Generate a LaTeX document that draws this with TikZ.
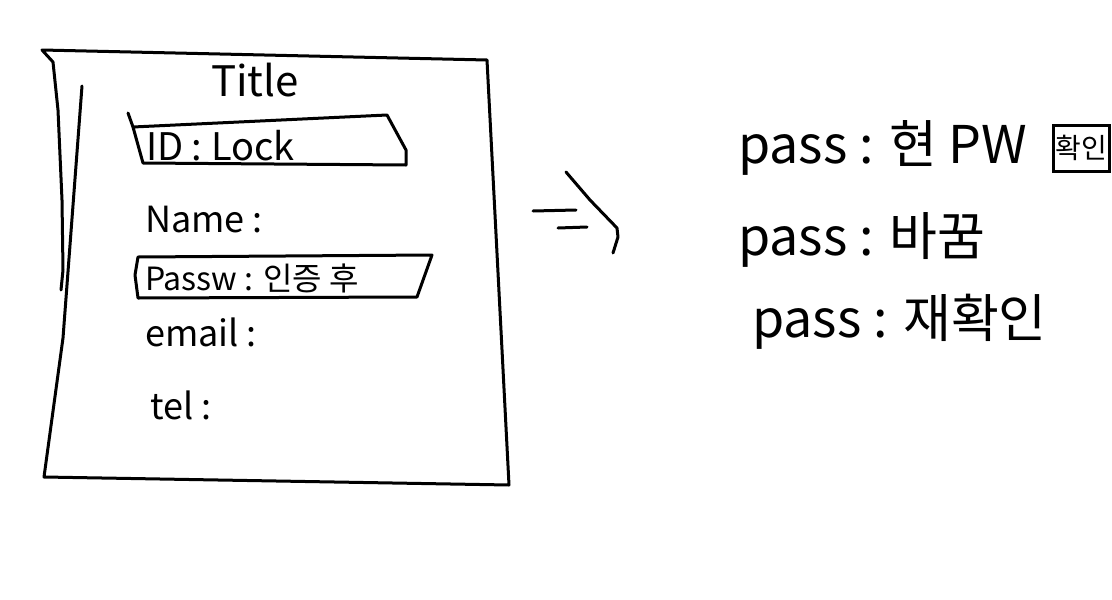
\documentclass[tikz,border=0pt]{standalone}
\usepackage{fontspec}
\newfontfamily\krfont{Noto Sans CJK KR}
\usetikzlibrary{positioning}
\tikzset{pen/.style={line width=3pt,line cap=round,line join=round},field/.style={font=\krfont\fontsize{36}{42}\selectfont,inner sep=0pt,anchor=west},note/.style={font=\krfont\fontsize{52}{60}\selectfont,inner sep=0pt,anchor=west},btn/.style={draw,line width=3pt,font=\krfont\fontsize{28}{32}\selectfont,inner sep=1pt,minimum height=46pt,minimum width=56pt}}

\begin{document}
\begin{tikzpicture}[x=1pt,y=-1pt]
\useasboundingbox (0,0) rectangle (1112,600);
% form sheet
\draw[pen] (82,86) -- (63,338) -- (44,477) -- (509,485) -- (487,60) -- (42,50) -- (53,62) -- (58,110) -- (62,200) -- (63,270) -- (61,290);
\node[field,anchor=center,font=\krfont\fontsize{42}{48}\selectfont] (title) at (255,80) {Title};
% id field
\draw[pen] (128,113) -- (133,127) -- (143,163) -- (406,165) -- (406,150) -- (387,115) -- (133,127);
\node[field,font=\krfont\fontsize{38}{44}\selectfont] (idlock) at (146,146) {ID : Lock};
\node[field] (name) at (145,220) {Name :};
% password field
\draw[pen] (138,257) -- (432,255) -- (417,297) -- (138,298) -- (135,275) -- cycle;
\node[field,font=\krfont\fontsize{32}{38}\selectfont] (passw) at (145,278) {Passw : 인증 후};
\node[field] (email) at (145,332) {email :};
\node[field] (tel) at (150,405) {tel :};
% arrow
\draw[pen] (533,211) -- (576,210);
\draw[pen] (558,228) -- (587,227);
\draw[pen] (566,172) -- (590,200) -- (617,228) -- (618,237) -- (613,253);
% password change
\node[note] (pass1) at (738,148) {pass : 현 PW};
\node[btn] (confirm) at (1081,148) {확인};
\node[note] (pass2) at (738,240) {pass : 바꿈};
\node[note] (pass3) at (752,322) {pass : 재확인};
\end{tikzpicture}
\end{document}
